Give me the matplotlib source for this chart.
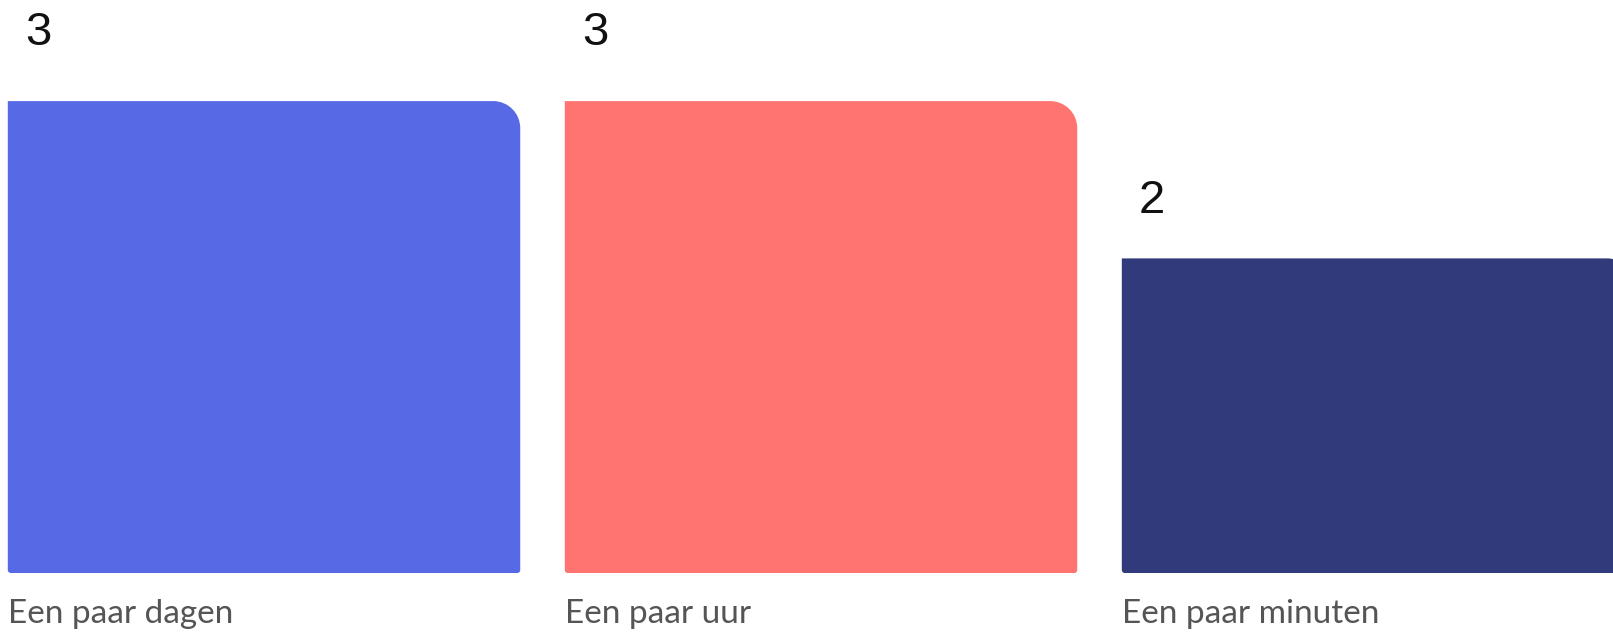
import matplotlib
matplotlib.use("Agg")
import matplotlib.pyplot as plt
from matplotlib.path import Path
from matplotlib.patches import PathPatch

# antwoorden per categorie
categories = ["Een paar dagen", "Een paar uur", "Een paar minuten"]
values = [3, 3, 2]
colors = ["#5769E4", "#FF7471", "#313B7B"]

W, H = 1613, 633
fig = plt.figure(figsize=(W / 100, H / 100), dpi=100)
ax = fig.add_axes([0, 0, 1, 1])
ax.set_xlim(-0.474, -0.474 + W / 557)
ax.set_ylim(-60 / 157.3, (H - 60) / 157.3)
ax.axis("off")

bar_w = 0.92
px_x = 1 / 557      # data units per pixel, x
px_y = 1 / 157.3    # data units per pixel, y


def rounded_bar(x0, w, h, r_tr=27, r_b=3):
    # rechthoek met afgeronde hoek rechtsboven
    rx, ry = r_tr * px_x, r_tr * px_y
    bx, by = r_b * px_x, r_b * px_y
    k = 0.5523
    verts = [
        (x0 + bx, 0),
        (x0 + w - bx, 0),
        (x0 + w, 0), (x0 + w, by),
        (x0 + w, h - ry),
        (x0 + w, h - ry + k * ry), (x0 + w - rx + k * rx, h), (x0 + w - rx, h),
        (x0, h),
        (x0, by),
        (x0, 0), (x0 + bx, 0),
        (x0 + bx, 0),
    ]
    codes = [Path.MOVETO, Path.LINETO, Path.CURVE3, Path.CURVE3, Path.LINETO,
             Path.CURVE4, Path.CURVE4, Path.CURVE4, Path.LINETO, Path.LINETO,
             Path.CURVE3, Path.CURVE3, Path.CLOSEPOLY]
    return PathPatch(Path(verts, codes), lw=0)


label_gap = [56, 56, 45]
for i, (cat, v, c) in enumerate(zip(categories, values, colors)):
    x0 = i - bar_w / 2
    p = rounded_bar(x0, bar_w, v)
    p.set_facecolor(c)
    ax.add_patch(p)
    ax.text(x0 + 17 * px_x, v + label_gap[i] * px_y, str(v),
            fontsize=34, family="Liberation Sans", color="#111111",
            ha="left", va="baseline")
    ax.text(x0, -50 * px_y, cat, fontsize=24, family="Lato",
            color="#555555", ha="left", va="baseline")

fig.savefig("out.png", dpi=100, facecolor="white")
